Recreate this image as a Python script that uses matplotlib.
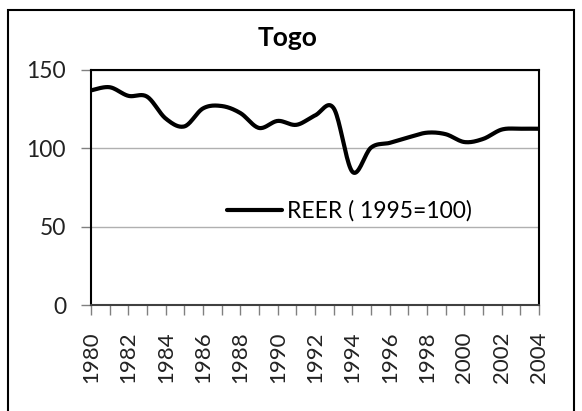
import matplotlib.pyplot as plt
import numpy as np
from matplotlib.patches import Rectangle

years = list(range(1980, 2005))
reer = [137, 139, 133.5, 133, 119, 114, 125.5, 127, 122.5, 113, 117.5, 115, 121,
        125.5, 85, 100.5, 103.5, 107, 110, 109, 104, 106, 112, 112.5, 112.5]
tick_labels = [str(y) for y in years[::2]]

plt.rcParams['font.family'] = ['Lato', 'DejaVu Sans']


def smooth(x, y, n=20):
    # catmull-rom style smoothing, like excel's smoothed line
    x = np.asarray(x, float)
    y = np.asarray(y, float)
    px = np.concatenate([[x[0]], x, [x[-1]]])
    py = np.concatenate([[y[0]], y, [y[-1]]])
    xs, ys = [], []
    for i in range(1, len(px) - 2):
        t = np.linspace(0, 1, n, endpoint=False)
        for p, out in ((px, xs), (py, ys)):
            p0, p1, p2, p3 = p[i - 1], p[i], p[i + 1], p[i + 2]
            out.extend(0.5 * ((2 * p1) + (-p0 + p2) * t
                              + (2 * p0 - 5 * p1 + 4 * p2 - p3) * t ** 2
                              + (-p0 + 3 * p1 - 3 * p2 + p3) * t ** 3))
    xs.append(x[-1])
    ys.append(y[-1])
    return np.array(xs), np.array(ys)


fig = plt.figure(figsize=(5.82, 4.11), dpi=100)
ax = fig.add_axes([0.1564, 0.2579, 0.770, 0.5718])

sx, sy = smooth(years, reer)
ax.plot(sx, sy, color='black', lw=3, label='REER ( 1995=100)', solid_capstyle='round')

ax.set_xlim(1980, 2004)
ax.set_ylim(0, 150)
ax.set_yticks([0, 50, 100, 150])
ax.set_xticks(years[::2])
ax.set_xticklabels(tick_labels, rotation=90, fontsize=16)
ax.set_xticks(years, minor=True)
ax.tick_params(axis='y', labelsize=16.5, direction='out', length=7, width=1,
               color='#808080', pad=11, labelcolor='#222222')
ax.tick_params(axis='x', which='both', direction='out', length=7, width=1,
               color='#808080', pad=12, labelcolor='#222222')
for s in ['left', 'top', 'right']:
    ax.spines[s].set_color('black')
    ax.spines[s].set_linewidth(1.5)
ax.spines['bottom'].set_color('#404040')
ax.spines['bottom'].set_linewidth(1.5)
ax.grid(axis='y', color='#b0b0b0', lw=1)
ax.set_axisbelow(True)

fig.text(0.494, 1 - 46 / 411, 'Togo', fontsize=19, fontweight='bold',
         ha='center', va='baseline')
ax.legend(loc='center left', bbox_to_anchor=(0.304, 0.40), frameon=False,
          fontsize=16.5, handlelength=2.4, handletextpad=0.2, borderpad=0,
          borderaxespad=0)

fig.patches.append(Rectangle((8 / 582, -0.05), 566 / 582, 1.05 - 10 / 411,
                             transform=fig.transFigure, fill=False,
                             edgecolor='black', lw=1.5))

fig.savefig('out.png', dpi=100)
